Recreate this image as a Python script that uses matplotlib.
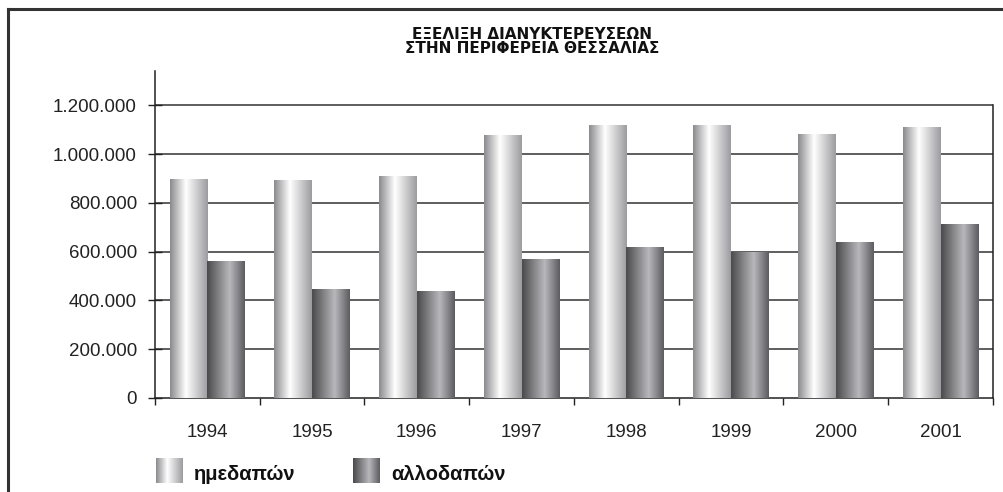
import numpy as np
import matplotlib
matplotlib.use("Agg")
import matplotlib.pyplot as plt
from matplotlib.colors import LinearSegmentedColormap
from matplotlib.ticker import FuncFormatter, MultipleLocator
from matplotlib.lines import Line2D

plt.rcParams["font.family"] = ["Liberation Sans", "DejaVu Sans"]

years = ["1994", "1995", "1996", "1997", "1998", "1999", "2000", "2001"]
domestic = [900000, 893000, 909000, 1077000, 1118000, 1118000, 1085000, 1110000]
foreign = [561000, 446000, 438000, 569000, 618000, 599000, 639000, 713000]
series_names = ["ημεδαπών", "αλλοδαπών"]
title_lines = ["ΕΞΕΛΙΞΗ ΔΙΑΝΥΚΤΕΡΕΥΣΕΩΝ", "ΣΤΗΝ ΠΕΡΙΦΕΡΕΙΑ ΘΕΣΣΑΛΙΑΣ"]

# cylinder-like shading across each bar
light_cmap = LinearSegmentedColormap.from_list(
    "light", [(0, "#8a8a8e"), (0.42, "#ffffff"), (1, "#9c9ca0")])
dark_cmap = LinearSegmentedColormap.from_list(
    "dark", [(0, "#4a4a4c"), (0.6, "#b8b8bc"), (1, "#5c5c60")])
grad = np.linspace(0, 1, 256).reshape(1, -1)

W, H = 1004, 492
fig = plt.figure(figsize=(W / 100, H / 100), dpi=100)
ax = fig.add_axes([155 / W, 1 - 398 / H, 838 / W, (398 - 71) / H])

x = np.arange(len(years))
width = 0.36
bars_d = ax.bar(x - width / 2, domestic, width, color="none", zorder=3)
bars_f = ax.bar(x + width / 2, foreign, width, color="none", zorder=3)


def shade(bars, cmap):
    for b in bars:
        x0, y0 = b.get_x(), b.get_y()
        im = ax.imshow(grad, cmap=cmap, aspect="auto", zorder=3,
                       extent=(x0, x0 + b.get_width(), y0, y0 + b.get_height()))
        im.set_clip_path(b)


shade(bars_d, light_cmap)
shade(bars_f, dark_cmap)

ax.set_xlim(-0.5, len(years) - 0.5)
ax.set_ylim(0, 1341500)

ax.yaxis.set_major_locator(MultipleLocator(200000))
ax.yaxis.set_major_formatter(FuncFormatter(lambda v, p: f"{int(v):,}".replace(",", ".") if v <= 1200000 else ""))
for v in range(200000, 1200001, 200000):
    ax.axhline(v, color="#333333", lw=1.1, zorder=1)

ax.set_xticks(x)
ax.set_xticklabels(years)
ax.set_xticks(np.arange(len(years) + 1) - 0.5, minor=True)
ax.tick_params(axis="x", which="major", length=0, pad=19, labelsize=13.5, colors="#222222")
ax.tick_params(axis="x", which="minor", length=5, width=1, direction="out", color="#222222")
ax.tick_params(axis="y", which="major", length=10, width=1, direction="inout",
               pad=8, labelsize=13.5, colors="#222222")

ax.spines["top"].set_visible(False)
ax.spines["right"].set_bounds(0, 1200000)
for s in ["left", "bottom", "right"]:
    ax.spines[s].set_color("#222222")
    ax.spines[s].set_linewidth(1.1)

# two-line title
for i, line in enumerate(title_lines):
    fig.text(532 / W, 1 - (39 + 14 * i) / H, line, ha="center", va="baseline",
             family="DejaVu Sans", fontsize=11, fontweight="bold", color="#111111")

# legend swatches
for i, (name, cmap) in enumerate(zip(series_names, [light_cmap, dark_cmap])):
    left = 156 + i * 197
    sw = fig.add_axes([left / W, 1 - 483 / H, 27 / W, 25 / H])
    sw.imshow(grad, cmap=cmap, aspect="auto")
    sw.axis("off")
    fig.text((left + 38) / W, 1 - 480 / H, name, ha="left", va="baseline",
             fontsize=14.5, fontweight="bold", color="#111111")

# outer frame
fig.add_artist(Line2D([8 / W, 1], [1 - 9 / H, 1 - 9 / H], color="#333333", lw=2.2))
fig.add_artist(Line2D([8 / W, 8 / W], [0, 1 - 9 / H], color="#333333", lw=2.2))

fig.savefig("out.png", dpi=100, facecolor="white")
